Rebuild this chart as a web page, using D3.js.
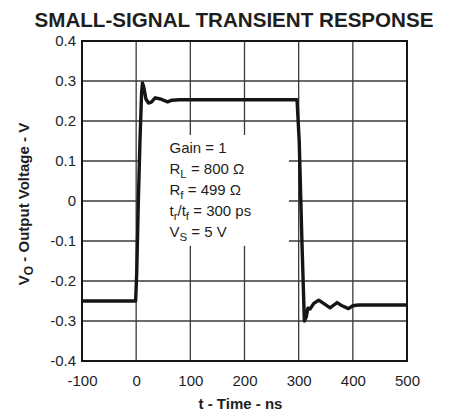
<!DOCTYPE html>
<html>
<head>
<meta charset="utf-8">
<script src="https://cdn.jsdelivr.net/npm/d3@7"></script>
<style>
  body { margin: 0; background: #fff; }
  text { font-family: "Liberation Sans", Arial, sans-serif; fill: #1e1e1e; }
</style>
</head>
<body>
<div id="chart"></div>
<script>
var timeTicks = [-100, 0, 100, 200, 300, 400, 500];
var voltTicks = [0.4, 0.3, 0.2, 0.1, 0, -0.1, -0.2, -0.3, -0.4];

// trace
var timeNs = [-100, -1, 1, 4, 7, 10, 11.6, 14, 18, 22.7, 28, 35, 45, 58, 66, 80, 200, 297,
              301, 306, 310.5, 314, 317, 321, 328, 337, 348, 358, 365, 371, 380, 392, 400, 410, 500];
var outputV = [-0.25, -0.25, -0.18, 0.0, 0.15, 0.27, 0.295, 0.285, 0.255, 0.245, 0.247, 0.258, 0.255, 0.248, 0.252, 0.253, 0.253, 0.253,
               0.15, -0.1, -0.30, -0.29, -0.268, -0.27, -0.256, -0.248, -0.258, -0.267, -0.26, -0.254, -0.262, -0.269, -0.262, -0.26, -0.26];

var notes = [
  { main: 'Gain = 1', sub: '', rest: '' },
  { main: 'R', sub: 'L', rest: ' = 800 \u03A9' },
  { main: 'R', sub: 'f', rest: ' = 499 \u03A9' },
  { main: 't', sub: 'r', rest: '/t', sub2: 'f', rest2: ' = 300 ps' },
  { main: 'V', sub: 'S', rest: ' = 5 V' }
];

var svgWidth = 451;
var svgHeight = 417;
// plot box (window.top is reserved, so plotTop etc.)
var plotLeft = 82, plotRight = 407, plotTop = 41, plotBottom = 361;

var svg = d3.select('#chart')
  .append('svg')
  .attr('width', svgWidth)
  .attr('height', svgHeight);

var x = d3.scaleLinear().domain([-100, 500]).range([plotLeft, plotRight]);
var y = d3.scaleLinear().domain([-0.4, 0.4]).range([plotBottom, plotTop]);

// grid
svg.selectAll('.vgrid')
  .data(timeTicks.slice(1, -1))
  .enter()
  .append('line')
  .attr('x1', function(d) { return x(d); })
  .attr('x2', function(d) { return x(d); })
  .attr('y1', plotTop).attr('y2', plotBottom)
  .attr('stroke', '#3a3a3a')
  .attr('stroke-width', 1.3);

svg.selectAll('.hgrid')
  .data(voltTicks.slice(1, -1))
  .enter()
  .append('line')
  .attr('x1', plotLeft).attr('x2', plotRight)
  .attr('y1', function(d) { return y(d); })
  .attr('y2', function(d) { return y(d); })
  .attr('stroke', '#3a3a3a')
  .attr('stroke-width', 1.3);

// white patch behind the conditions text (grid is blanked there)
svg.append('rect')
  .attr('x', x(5)).attr('y', y(0.165))
  .attr('width', x(282) - x(5)).attr('height', y(-0.112) - y(0.165))
  .attr('fill', '#fff');

// axes (labels only)
var xAxis = svg.append('g')
  .attr('transform', 'translate(0,' + plotBottom + ')')
  .call(d3.axisBottom(x).tickValues(timeTicks).tickSize(0).tickPadding(14)
    .tickFormat(function(d) { return String(d); }));
var yAxis = svg.append('g')
  .attr('transform', 'translate(' + plotLeft + ',0)')
  .call(d3.axisLeft(y).tickValues(voltTicks).tickSize(0).tickPadding(6)
    .tickFormat(function(d) { return d === 0 ? '0' : d.toFixed(1); }));

[xAxis, yAxis].forEach(function(g) {
  g.select('.domain').remove();
  g.selectAll('text')
    .style('font-family', '"Liberation Sans", Arial, sans-serif')
    .style('font-size', '15px')
    .attr('fill', '#1e1e1e');
});

// frame
svg.append('rect')
  .attr('x', plotLeft).attr('y', plotTop)
  .attr('width', plotRight - plotLeft).attr('height', plotBottom - plotTop)
  .attr('fill', 'none')
  .attr('stroke', '#151515')
  .attr('stroke-width', 2);

// trace
var pts = timeNs.map(function(t, i) { return [t, outputV[i]]; });
var line = d3.line()
  .x(function(d) { return x(d[0]); })
  .y(function(d) { return y(d[1]); });

svg.append('path')
  .datum(pts)
  .attr('d', line)
  .attr('fill', 'none')
  .attr('stroke', '#151515')
  .attr('stroke-width', 3.4)
  .attr('stroke-linejoin', 'round')
  .attr('stroke-linecap', 'butt');

// annotation
var noteG = svg.append('g').attr('transform', 'translate(169.5,153)');
notes.forEach(function(n, i) {
  var t = noteG.append('text')
    .attr('y', i * 20.9)
    .style('font-size', '15px');
  t.append('tspan').text(n.main);
  if (n.sub) {
    t.append('tspan').attr('dy', 4).style('font-size', '11.5px').text(n.sub);
    t.append('tspan').attr('dy', -4).text(n.rest);
  }
  if (n.sub2) {
    t.append('tspan').attr('dy', 4).style('font-size', '11.5px').text(n.sub2);
    t.append('tspan').attr('dy', -4).text(n.rest2);
  }
});

// title and axis labels
svg.append('text')
  .attr('x', 234).attr('y', 26.5)
  .attr('text-anchor', 'middle')
  .style('font-size', '20.6px')
  .style('font-weight', 'bold')
  .text('SMALL-SIGNAL TRANSIENT RESPONSE');

svg.append('text')
  .attr('x', 240.5).attr('y', 409)
  .attr('text-anchor', 'middle')
  .style('font-size', '15px')
  .style('font-weight', 'bold')
  .text('t - Time - ns');

var yl = svg.append('text')
  .attr('transform', 'translate(29,204) rotate(-90)')
  .attr('text-anchor', 'middle')
  .style('font-size', '15px')
  .style('font-weight', 'bold');
yl.append('tspan').text('V');
yl.append('tspan').attr('dy', 4).style('font-size', '12px').text('O');
yl.append('tspan').attr('dy', -4).text(' - Output Voltage - V');
</script>
</body>
</html>
